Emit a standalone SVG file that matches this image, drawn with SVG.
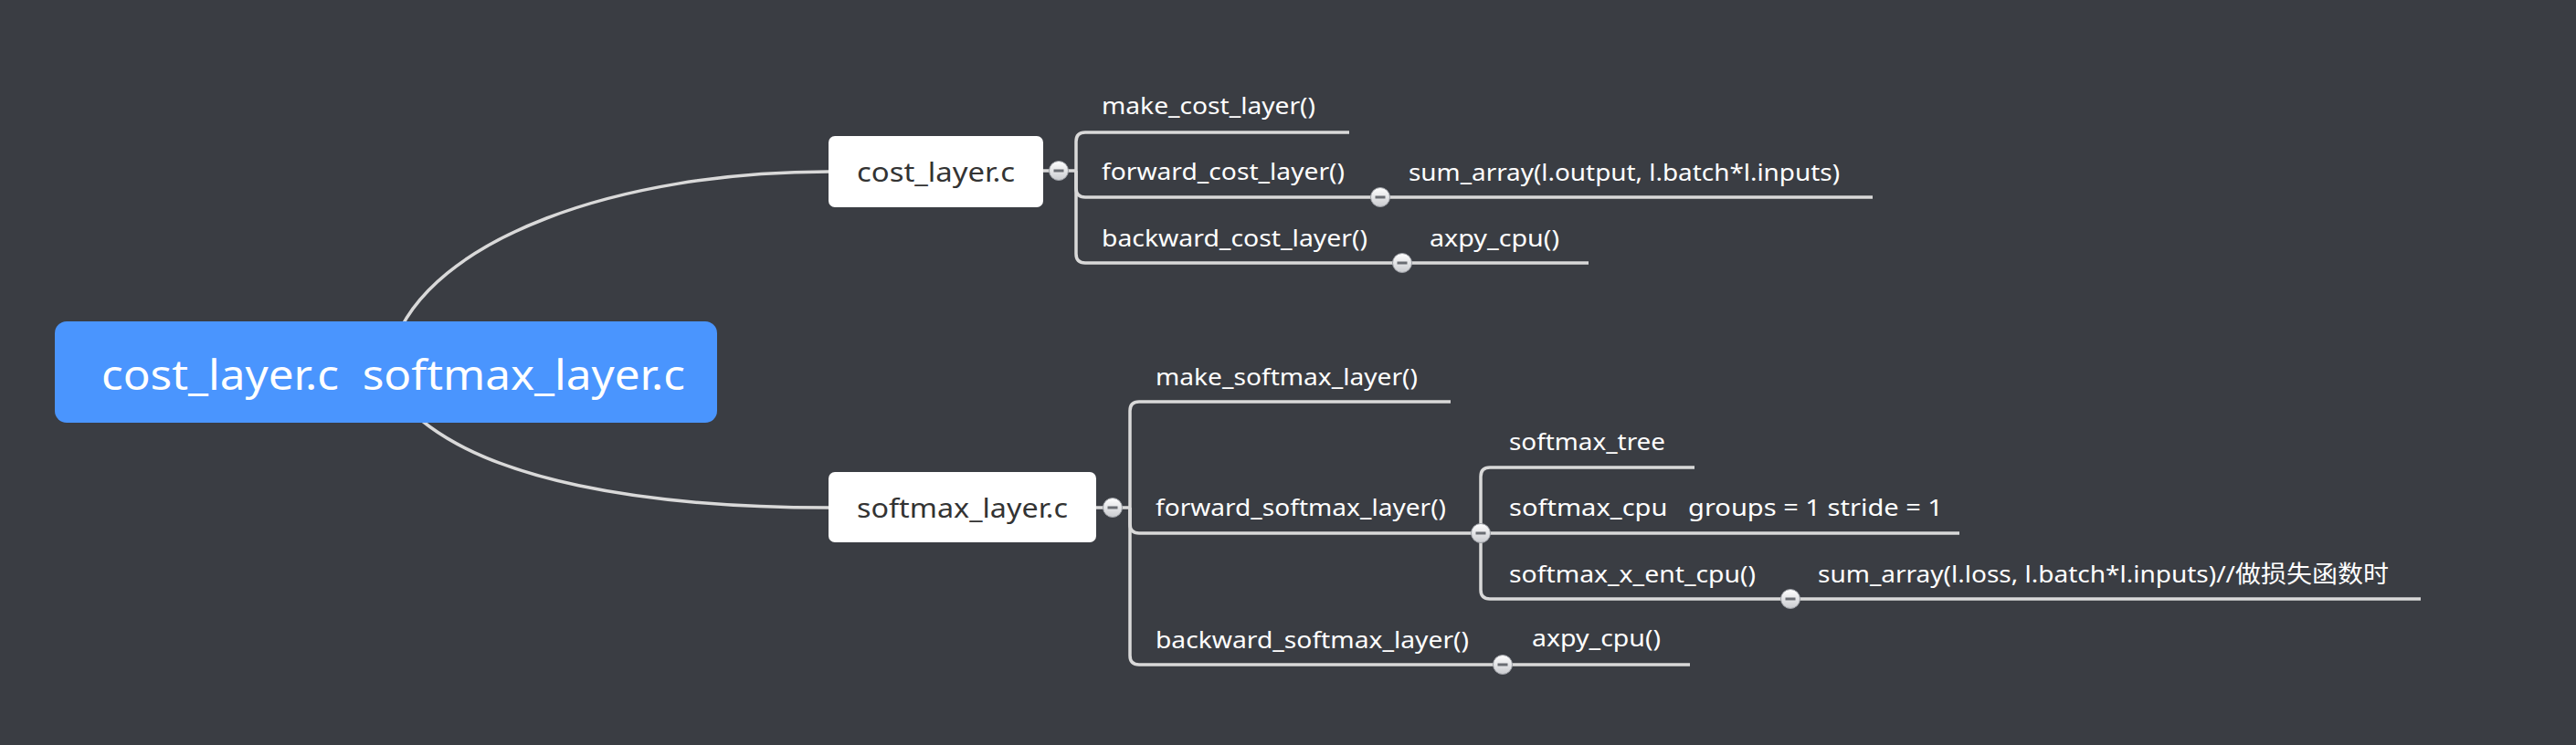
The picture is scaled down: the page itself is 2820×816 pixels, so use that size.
<svg xmlns="http://www.w3.org/2000/svg" width="2820" height="816" viewBox="0 0 2820 816">
<defs>
<linearGradient id="btnGrad" x1="0" y1="0" x2="0" y2="1">
<stop offset="0" stop-color="#ffffff"/>
<stop offset="1" stop-color="#c9cbcf"/>
</linearGradient>
<g id="btn">
<circle cx="0" cy="0" r="10.5" fill="url(#btnGrad)" stroke="#9a9da3" stroke-width="1"/>
<line x1="-5.5" y1="0" x2="5.5" y2="0" stroke="#6a6d73" stroke-width="3"/>
</g>
</defs>
<style>
.bg{fill:#3a3d43}
.ln{fill:none;stroke:#d9d9d9;stroke-width:3.5;stroke-linecap:butt}
.lbl{font-family:"Noto Sans","Noto Sans CJK SC",sans-serif;font-size:26px;fill:#ffffff}
.box{fill:#ffffff}
.boxt{font-family:"Noto Sans","Noto Sans CJK SC",sans-serif;font-size:29px;fill:#333333}
.root{fill:#4a95fe}
.roott{font-family:"Noto Sans","Noto Sans CJK SC",sans-serif;font-size:46px;fill:#ffffff;white-space:pre}
</style>
<rect class="bg" x="0" y="0" width="2820" height="816"/>

<g id="connectors">
<path class="ln" d="M430,380 C 470,260 680,188 907,188"/>
<path class="ln" d="M440,440 C 520,530 720,556 907,556"/>
<path class="ln" d="M1142,187 H1178"/>
<path class="ln" d="M1178,187 V155 Q1178,145 1188,145 H1477"/>
<path class="ln" d="M1178,187 V206 Q1178,216 1188,216 H2050"/>
<path class="ln" d="M1178,187 V278 Q1178,288 1188,288 H1739"/>
<path class="ln" d="M1200,556 H1237"/>
<path class="ln" d="M1237,556 V450 Q1237,440 1247,440 H1588"/>
<path class="ln" d="M1237,556 V574 Q1237,584 1247,584 H1621"/>
<path class="ln" d="M1237,556 V718 Q1237,728 1247,728 H1850"/>
<path class="ln" d="M1621,584 V522 Q1621,512 1631,512 H1855"/>
<path class="ln" d="M1621,584 H2145"/>
<path class="ln" d="M1621,584 V646 Q1621,656 1631,656 H2650"/>
</g>

<g id="root">
<rect class="root" x="60" y="352" width="725" height="111" rx="13"/>
<text class="roott" x="111" y="427" textLength="639" lengthAdjust="spacingAndGlyphs" xml:space="preserve">cost_layer.c  softmax_layer.c</text>
</g>

<g id="cost_layer">
<rect class="box" x="907" y="149" width="235" height="78" rx="7"/>
<text class="boxt" x="938" y="199" textLength="173" lengthAdjust="spacingAndGlyphs">cost_layer.c</text>
<use href="#btn" x="1159" y="187"/>
</g>
<g id="make_cost_layer"><text class="lbl" x="1206" y="125" textLength="234" lengthAdjust="spacingAndGlyphs">make_cost_layer()</text></g>
<g id="forward_cost_layer"><text class="lbl" x="1206" y="197" textLength="266" lengthAdjust="spacingAndGlyphs">forward_cost_layer()</text><use href="#btn" x="1511" y="216"/></g>
<g id="backward_cost_layer"><text class="lbl" x="1206" y="270" textLength="291" lengthAdjust="spacingAndGlyphs">backward_cost_layer()</text><use href="#btn" x="1535" y="288"/></g>
<g id="sum_array_output"><text class="lbl" x="1542" y="198" textLength="472" lengthAdjust="spacingAndGlyphs">sum_array(l.output, l.batch*l.inputs)</text></g>
<g id="axpy_cpu_cost"><text class="lbl" x="1565" y="270" textLength="142" lengthAdjust="spacingAndGlyphs">axpy_cpu()</text></g>

<g id="softmax_layer">
<rect class="box" x="907" y="517" width="293" height="77" rx="7"/>
<text class="boxt" x="938" y="567" textLength="231" lengthAdjust="spacingAndGlyphs">softmax_layer.c</text>
<use href="#btn" x="1218" y="556"/>
</g>
<g id="make_softmax_layer"><text class="lbl" x="1265" y="422" textLength="287" lengthAdjust="spacingAndGlyphs">make_softmax_layer()</text></g>
<g id="forward_softmax_layer"><text class="lbl" x="1265" y="565" textLength="318" lengthAdjust="spacingAndGlyphs">forward_softmax_layer()</text></g>
<g id="backward_softmax_layer"><text class="lbl" x="1265" y="710" textLength="343" lengthAdjust="spacingAndGlyphs">backward_softmax_layer()</text><use href="#btn" x="1645" y="728"/></g>
<g id="softmax_tree"><text class="lbl" x="1652" y="493" textLength="171" lengthAdjust="spacingAndGlyphs">softmax_tree</text></g>
<g id="softmax_cpu"><text class="lbl" x="1652" y="565" textLength="475" lengthAdjust="spacingAndGlyphs" xml:space="preserve">softmax_cpu   groups = 1 stride = 1</text></g>
<g id="softmax_x_ent_cpu"><text class="lbl" x="1652" y="638" textLength="270" lengthAdjust="spacingAndGlyphs">softmax_x_ent_cpu()</text><use href="#btn" x="1960" y="656"/></g>
<g id="sum_array_loss"><text class="lbl" x="1990" y="638" textLength="625" lengthAdjust="spacingAndGlyphs">sum_array(l.loss, l.batch*l.inputs)//做损失函数时</text></g>
<g id="axpy_cpu_softmax"><text class="lbl" x="1677" y="708" textLength="141" lengthAdjust="spacingAndGlyphs">axpy_cpu()</text></g>
<g id="fwd_btn"><use href="#btn" x="1621" y="584"/></g>
</svg>
